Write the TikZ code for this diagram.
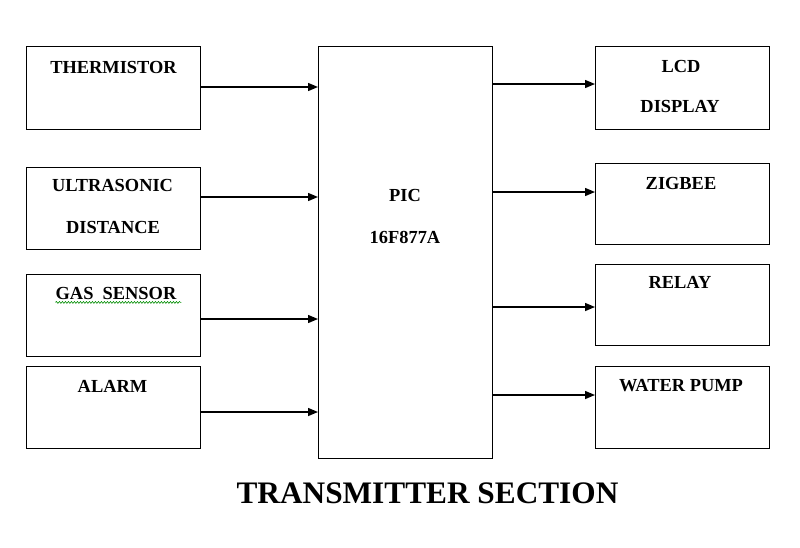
\documentclass[tikz,border=0pt]{standalone}
\usepackage{fontspec}
\setmainfont{Liberation Serif}
\usetikzlibrary{arrows.meta,decorations.pathmorphing}
\begin{document}
\begin{tikzpicture}[x=1pt,y=-1pt,
  box/.style={draw,line width=1.3pt,rectangle,inner sep=0pt,anchor=north west,minimum width=174pt},
  lbl/.style={font=\fontsize{18.4}{20}\selectfont\bfseries,inner sep=0pt},
  ttl/.style={font=\fontsize{31.3}{34}\selectfont\bfseries,inner sep=0pt},
  arr/.style={line width=1.4pt,-{Triangle[length=10pt,width=8pt]}},
  squig/.style={draw=green!55!black,line width=0.6pt,decorate,decoration={snake,amplitude=0.9pt,segment length=3pt}}]
\useasboundingbox (0,0) rectangle (800,547);
% left boxes
\node[box,minimum height=83pt] (th) at (26,46) {};
\node[box,minimum height=82pt] (us) at (26,167) {};
\node[box,minimum height=82pt] (gs) at (26,274) {};
\node[box,minimum height=82pt] (al) at (26,366) {};
% PIC
\node[box,minimum height=412pt] (pic) at (318,46) {};
% right boxes
\node[box,minimum height=83pt] (lcd) at (595,46) {};
\node[box,minimum height=81pt] (zb) at (595,163) {};
\node[box,minimum height=81pt] (rl) at (595,264) {};
\node[box,minimum height=82pt] (wp) at (595,366) {};
% labels
\node[lbl] (tht) at (113.5,67) {THERMISTOR};
\node[lbl] (ust1) at (112.5,185) {ULTRASONIC};
\node[lbl] (ust2) at (113,227) {DISTANCE};
\node[lbl] (gst) at (116,293) {GAS\ \ SENSOR};
\node[lbl] (alt) at (112.5,386) {ALARM};
\node[lbl] (pict1) at (405,195) {PIC};
\node[lbl] (pict2) at (405,237) {16F877A};
\node[lbl] (lcdt1) at (681,66) {LCD};
\node[lbl] (lcdt2) at (680,106) {DISPLAY};
\node[lbl] (zbt) at (681,183) {ZIGBEE};
\node[lbl] (rlt) at (680,282) {RELAY};
\node[lbl] (wpt) at (681,386) {WATER PUMP};
\node[ttl] (title) at (427.5,493) {TRANSMITTER SECTION};
% spell-check squiggle
\draw[squig] (gst.south west) ++(0,3) -- ++(126,0);
% arrows in
\draw[arr] (th.east |- 0,87) -- (pic.west |- 0,87);
\draw[arr] (us.east |- 0,197) -- (pic.west |- 0,197);
\draw[arr] (gs.east |- 0,319) -- (pic.west |- 0,319);
\draw[arr] (al.east |- 0,412) -- (pic.west |- 0,412);
% arrows out
\draw[arr] (pic.east |- 0,84) -- (lcd.west |- 0,84);
\draw[arr] (pic.east |- 0,192) -- (zb.west |- 0,192);
\draw[arr] (pic.east |- 0,307) -- (rl.west |- 0,307);
\draw[arr] (pic.east |- 0,395) -- (wp.west |- 0,395);
\end{tikzpicture}
\end{document}
